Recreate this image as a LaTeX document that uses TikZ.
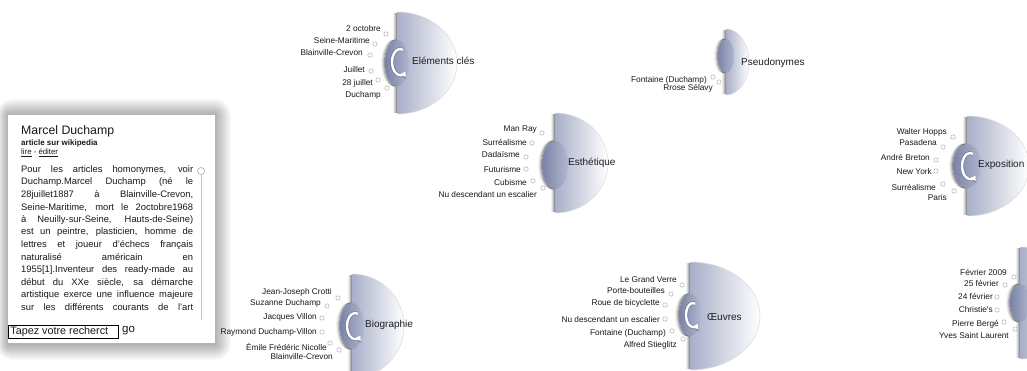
\documentclass[tikz,border=0pt]{standalone}
\usepackage{fontspec}
\setmainfont{Liberation Sans}
\usetikzlibrary{arrows.meta}

\definecolor{discL}{RGB}{168,175,200}
\definecolor{bumpL}{RGB}{122,131,166}
\definecolor{bumpR}{RGB}{176,183,206}
\definecolor{ink}{RGB}{25,25,25}
\definecolor{hubink}{RGB}{30,30,35}
\definecolor{ringc}{RGB}{175,175,175}
\definecolor{turnedge}{RGB}{110,116,142}
\definecolor{rim}{RGB}{218,218,222}

\tikzset{
  discbody/.style={left color=discL, right color=white},
  bumpbody/.style={left color=bumpL, right color=bumpR},
  item/.style={anchor=east, inner sep=0pt, text=ink, font=\fontsize{8.3}{9}\selectfont},
  ringmark/.style={circle, draw=ringc, fill=white, line width=0.5pt, minimum size=4.4pt, inner sep=0pt},
  hub/.style={anchor=west, inner sep=0pt, text=hubink, font=\fontsize{10}{11}\selectfont},
  paraline/.style={anchor=west, inner sep=0pt, text=ink, font=\fontsize{9.4}{10}\selectfont},
  softshade/.style={draw=black, line width=1pt},
}

% half disc with its flat side on the left, plus the darker knob on that side
% #1 flat x, #2 centre y, #3 x radius, #4 y radius, #5 knob centre y, #6 knob x radius, #7 knob y radius
\newcommand\halfdisc[7]{%
  \foreach \k/\o in {0.5/0.42,1.5/0.28,2.5/0.15,3.5/0.06}
    \draw[softshade, draw opacity=\o] (#1-\k,#2-#4+1) -- (#1-\k,#2+#4-1);
  \path[discbody] (#1,#2-#4) arc[start angle=-90,end angle=90,x radius=#3,y radius=#4] -- cycle;
  \draw[rim, line width=0.5pt] (#1,#2-#4) arc[start angle=-90,end angle=90,x radius=#3,y radius=#4];
  \foreach \k/\o in {0.5/0.38,1.5/0.24,2.5/0.12,3.5/0.05}
    \draw[softshade, draw opacity=\o] (#1-\k,#5-#7) arc[start angle=-90,end angle=-270,x radius=#6,y radius=#7];
  \path[bumpbody] (#1,#5) ellipse[x radius=#6, y radius=#7];
}
% curved arrow inside the knob: centre x, centre y, x radius, y radius
\newcommand\turnarrow[4]{%
  \draw[line width=3.6pt, draw=turnedge, -{Latex[length=7pt,width=9pt]}]
    ([shift={(-70:#3 and #4)}]#1,#2) arc[start angle=-70, end angle=-318, x radius=#3, y radius=#4];
  \draw[line width=2.4pt, draw=white, -{Latex[length=5.4pt,width=7pt]}]
    ([shift={(-70:#3 and #4)}]#1,#2) arc[start angle=-70, end angle=-316, x radius=#3, y radius=#4];
}

\begin{document}
\begin{tikzpicture}[x=1pt,y=-1pt]
\useasboundingbox (0,0) rectangle (1027,371);
\fill[white] (0,0) rectangle (1027,371);
\clip (0,0) rectangle (1027,371);

% ---------- article card ----------
\foreach \k in {1,...,16}
  \fill[black, fill opacity=0.019, rounded corners=\k pt] (8-0.7*\k,115-\k) rectangle (215+\k,343+\k+1);
\fill[white] (8,115) rectangle (215,343);
\node[anchor=west, inner sep=0pt, text=ink, font=\fontsize{12.3}{13}\selectfont] (title) at (21,131) {Marcel Duchamp};
\node[anchor=west, inner sep=0pt, text=ink, font=\fontsize{8}{9}\selectfont\bfseries] (source) at (21,143) {article sur wikipedia};
\node[anchor=west, inner sep=0pt, text=ink, font=\fontsize{7.8}{8}\selectfont] (links) at (21,152.5) {\underline{lire} - \underline{éditer}};
\foreach \txt [count=\i from 0] in {
  {Pour les articles homonymes, voir},
  {Duchamp.Marcel Duchamp (né le},
  {28juillet1887 à Blainville-Crevon,},
  {Seine-Maritime, mort le 2octobre1968},
  {à Neuilly-sur-Seine, Hauts-de-Seine)},
  {est un peintre, plasticien, homme de},
  {lettres et joueur d'échecs français},
  {naturalisé américain en},
  {1955[1].Inventeur des ready-made au},
  {début du XXe siècle, sa démarche},
  {artistique exerce une influence majeure},
  {sur les différents courants de l'art}}
  \node[paraline] (para\i) at (21,{170+12.5*\i}) {\makebox[172pt][s]{\txt}};
\draw[draw=ringc!70, line width=0.6pt] (201,175) -- (201,320);
\node[circle, draw=ringc, fill=white, line width=0.6pt, minimum size=7pt, inner sep=0pt] (knob) at (201,171) {};
\node[draw=black, line width=0.7pt, anchor=north west, minimum width=110pt, minimum height=13pt,
      inner sep=1pt, text=ink, font=\fontsize{10.8}{11}\selectfont] (search) at (8,324.5)
      {\makebox[106pt][l]{Tapez votre recherct}};
\node[anchor=west, inner sep=0pt, text=ink, font=\fontsize{11.5}{12}\selectfont] (go) at (122,331) {go};

% ---------- Eléments clés ----------
\halfdisc{397}{63}{60}{51}{63}{12}{23}
\turnarrow{400}{62}{8}{13}
\node[hub] (elements) at (412,61) {Eléments clés};
\node[item] (el1) at (381,29) {2 octobre};          \node[ringmark] (el1r) at (386,34) {};
\node[item] (el2) at (370,41) {Seine-Maritime};     \node[ringmark] (el2r) at (375,44) {};
\node[item] (el3) at (363,53) {Blainville-Crevon};  \node[ringmark] (el3r) at (370,55) {};
\node[item] (el4) at (365,70) {Juillet};            \node[ringmark] (el4r) at (371,71) {};
\node[item] (el5) at (373,83) {28 juillet};         \node[ringmark] (el5r) at (378,80) {};
\node[item] (el6) at (381,95) {Duchamp};            \node[ringmark] (el6r) at (387,88) {};

% ---------- Pseudonymes ----------
\halfdisc{726}{62}{23}{33}{56}{8}{17}
\node[hub] (pseudo) at (741,63) {Pseudonymes};
\node[item] (ps1) at (707,80) {Fontaine (Duchamp)}; \node[ringmark] (ps1r) at (713,77) {};
\node[item] (ps2) at (713,88) {Rrose Sélavy};       \node[ringmark] (ps2r) at (719,82) {};

% ---------- Esthétique ----------
\halfdisc{555}{163}{53}{50}{165}{13}{24}
\node[hub] (esth) at (568,163) {Esthétique};
\node[item] (es1) at (537,130) {Man Ray};                  \node[ringmark] (es1r) at (542,133) {};
\node[item] (es2) at (527,142) {Surréalisme};              \node[ringmark] (es2r) at (532,143) {};
\node[item] (es3) at (520,155) {Dadaïsme};                 \node[ringmark] (es3r) at (526,157) {};
\node[item] (es4) at (521,170) {Futurisme};                \node[ringmark] (es4r) at (526,169) {};
\node[item] (es5) at (527,183) {Cubisme};                  \node[ringmark] (es5r) at (533,181) {};
\node[item] (es6) at (537,195) {Nu descendant un escalier};\node[ringmark] (es6r) at (543,188) {};

% ---------- Exposition ----------
\halfdisc{967}{166}{62}{50}{166}{14}{22}
\turnarrow{970}{166}{8}{13}
\node[hub] (expo) at (978,165) {Exposition};
\node[item] (ex1) at (947,132) {Walter Hopps};   \node[ringmark] (ex1r) at (953,137) {};
\node[item] (ex2) at (937,143) {Pasadena};       \node[ringmark] (ex2r) at (943,147) {};
\node[item] (ex3) at (930,157) {André Breton};   \node[ringmark] (ex3r) at (936,160) {};
\node[item] (ex4) at (932,172) {New York};       \node[ringmark] (ex4r) at (936,171) {};
\node[item] (ex5) at (936,187) {Surréalisme};    \node[ringmark] (ex5r) at (943,184) {};
\node[item] (ex6) at (947,198) {Paris};          \node[ringmark] (ex6r) at (954,191) {};

% ---------- Biographie ----------
\halfdisc{352}{326}{52}{52}{326}{12}{23}
\turnarrow{355}{326}{8}{13}
\node[hub] (bio) at (365,325) {Biographie};
\node[item] (bi1) at (332,292) {Jean-Joseph Crotti};       \node[ringmark] (bi1r) at (338,298) {};
\node[item] (bi2) at (321,303) {Suzanne Duchamp};          \node[ringmark] (bi2r) at (327,306) {};
\node[item] (bi3) at (317,317) {Jacques Villon};           \node[ringmark] (bi3r) at (322,318) {};
\node[item] (bi4) at (317,332) {Raymond Duchamp-Villon};   \node[ringmark] (bi4r) at (322,332) {};
\node[item] (bi5) at (327,347) {Émile Frédéric Nicolle};   \node[ringmark] (bi5r) at (330,343) {};
\node[item] (bi6) at (333,357) {Blainville-Crevon};        \node[ringmark] (bi6r) at (339,350) {};

% ---------- Œuvres ----------
\halfdisc{690}{316}{70}{54}{315}{11}{21}
\turnarrow{693}{315}{7}{12}
\node[hub] (oeuvres) at (707,317) {Œuvres};
\node[item] (oe1) at (677,280) {Le Grand Verre};            \node[ringmark] (oe1r) at (682,285) {};
\node[item] (oe2) at (665,291) {Porte-bouteilles};          \node[ringmark] (oe2r) at (671,294) {};
\node[item] (oe3) at (660,303) {Roue de bicyclette};        \node[ringmark] (oe3r) at (665,305) {};
\node[item] (oe4) at (660,320) {Nu descendant un escalier}; \node[ringmark] (oe4r) at (665,319) {};
\node[item] (oe5) at (666,333) {Fontaine (Duchamp)};        \node[ringmark] (oe5r) at (672,331) {};
\node[item] (oe6) at (677,345) {Alfred Stieglitz};          \node[ringmark] (oe6r) at (683,339) {};

% ---------- sale (cut by the right edge) ----------
\halfdisc{1020}{303}{60}{56}{303}{10}{19}
\node[item] (sa1) at (1007,272) {Février 2009};       \node[ringmark] (sa1r) at (1014,277) {};
\node[item] (sa2) at (999,283) {25 février};          \node[ringmark] (sa2r) at (1005,285) {};
\node[item] (sa3) at (993,296) {24 février};          \node[ringmark] (sa3r) at (997,297) {};
\node[item] (sa4) at (993,310) {Christie's};          \node[ringmark] (sa4r) at (997,310) {};
\node[item] (sa5) at (999,324) {Pierre Bergé};        \node[ringmark] (sa5r) at (1004,322) {};
\node[item] (sa6) at (1009,336) {Yves Saint Laurent}; \node[ringmark] (sa6r) at (1015,329) {};
\end{tikzpicture}
\end{document}
